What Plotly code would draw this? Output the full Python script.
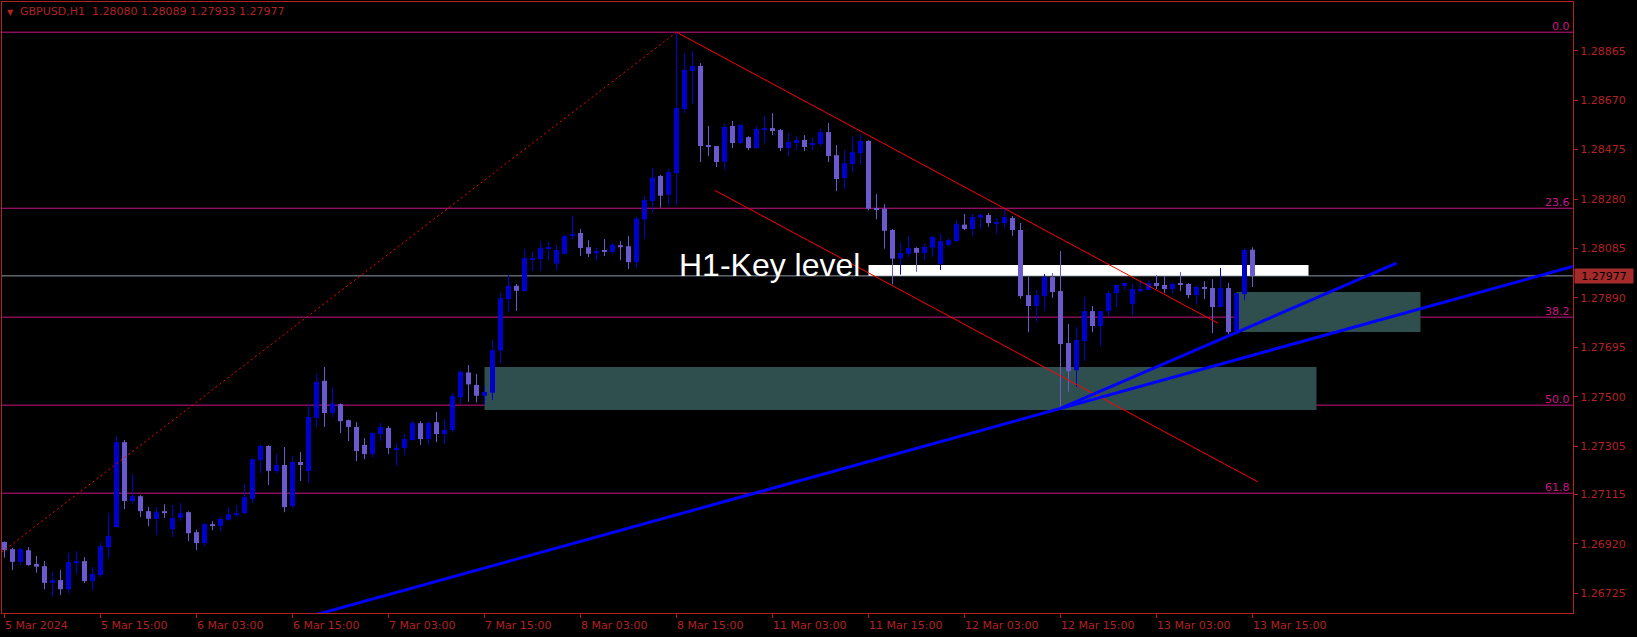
import plotly.graph_objects as go

symbol = "GBPUSD"
timeframe = "H1"

opens = [1.26927, 1.26899, 1.26849, 1.26895, 1.26841, 1.26832, 1.26766, 1.26777, 1.26741, 1.26844,
         1.26852, 1.26773, 1.26797, 1.26907, 1.26986, 1.27321, 1.27089, 1.27108, 1.27049, 1.27018,
         1.27049, 1.26978, 1.27023, 1.27045, 1.26966, 1.26923, 1.26998, 1.26991, 1.27015, 1.27033,
         1.27041, 1.27097, 1.27250, 1.27306, 1.27207, 1.27231, 1.27069, 1.27243, 1.27207, 1.27417,
         1.27563, 1.27436, 1.27471, 1.27408, 1.27381, 1.27310, 1.27275, 1.27353, 1.27377, 1.27294,
         1.27298, 1.27329, 1.27396, 1.27333, 1.27400, 1.27353, 1.27369, 1.27498, 1.27596, 1.27547,
         1.27504, 1.27516, 1.27682, 1.27885, 1.27938, 1.27917, 1.28042, 1.28043, 1.28084, 1.28025,
         1.28064, 1.28135, 1.28146, 1.28090, 1.28066, 1.28079, 1.28071, 1.28098, 1.28094, 1.28031,
         1.28200, 1.28272, 1.28371, 1.28297, 1.28382, 1.28635, 1.28785, 1.28805, 1.28493, 1.28489,
         1.28427, 1.28568, 1.28501, 1.28524, 1.28481, 1.28552, 1.28560, 1.28552, 1.28481, 1.28501,
         1.28513, 1.28493, 1.28497, 1.28544, 1.28453, 1.28363, 1.28418, 1.28461, 1.28509, 1.28242,
         1.28242, 1.28158, 1.28045, 1.28064, 1.28087, 1.28067, 1.28088, 1.28024, 1.28099, 1.28114,
         1.28179, 1.28162, 1.28207, 1.28217, 1.28185, 1.28185, 1.28205, 1.28158, 1.27901, 1.27858,
         1.27897, 1.27972, 1.27917, 1.27712, 1.27605, 1.27720, 1.27838, 1.27779, 1.27838, 1.27909,
         1.27937, 1.27866, 1.27916, 1.27921, 1.27949, 1.27941, 1.27925, 1.27945, 1.27945, 1.27901,
         1.27933, 1.27929, 1.27854, 1.27929, 1.27759, 1.27905, 1.28080]
highs = [1.26930, 1.26905, 1.26905, 1.26907, 1.26872, 1.26852, 1.26809, 1.26817, 1.26885, 1.26891,
         1.26868, 1.26828, 1.26926, 1.27040, 1.27345, 1.27329, 1.27195, 1.27112, 1.27066, 1.27065,
         1.27077, 1.27073, 1.27081, 1.27048, 1.26976, 1.27003, 1.27010, 1.27026, 1.27065, 1.27073,
         1.27156, 1.27256, 1.27313, 1.27309, 1.27274, 1.27302, 1.27266, 1.27282, 1.27474, 1.27592,
         1.27618, 1.27538, 1.27474, 1.27410, 1.27400, 1.27337, 1.27360, 1.27396, 1.27385, 1.27318,
         1.27353, 1.27404, 1.27404, 1.27404, 1.27440, 1.27412, 1.27515, 1.27602, 1.27625, 1.27590,
         1.27543, 1.27724, 1.27910, 1.27980, 1.27945, 1.28083, 1.28073, 1.28112, 1.28110, 1.28098,
         1.28140, 1.28215, 1.28162, 1.28118, 1.28087, 1.28122, 1.28105, 1.28114, 1.28134, 1.28210,
         1.28292, 1.28402, 1.28375, 1.28398, 1.28938, 1.28856, 1.28864, 1.28816, 1.28568, 1.28489,
         1.28576, 1.28588, 1.28575, 1.28528, 1.28568, 1.28607, 1.28619, 1.28556, 1.28540, 1.28528,
         1.28532, 1.28521, 1.28556, 1.28580, 1.28493, 1.28473, 1.28528, 1.28536, 1.28512, 1.28300,
         1.28260, 1.28162, 1.28110, 1.28134, 1.28090, 1.28103, 1.28134, 1.28142, 1.28126, 1.28197,
         1.28221, 1.28221, 1.28225, 1.28225, 1.28205, 1.28241, 1.28213, 1.28185, 1.27974, 1.27921,
         1.27984, 1.27988, 1.28075, 1.27787, 1.27775, 1.27894, 1.27858, 1.27838, 1.27917, 1.27941,
         1.27949, 1.27945, 1.27960, 1.27960, 1.27980, 1.27976, 1.27952, 1.27992, 1.27949, 1.27941,
         1.27956, 1.27964, 1.28008, 1.27949, 1.27909, 1.28087, 1.28089]
lows = [1.26865, 1.26817, 1.26836, 1.26834, 1.26806, 1.26741, 1.26711, 1.26718, 1.26724, 1.26801,
        1.26766, 1.26738, 1.26789, 1.26864, 1.26986, 1.27057, 1.27077, 1.27026, 1.26990, 1.26955,
        1.27022, 1.26947, 1.27010, 1.26931, 1.26895, 1.26912, 1.26974, 1.26970, 1.27011, 1.27026,
        1.27037, 1.27081, 1.27199, 1.27152, 1.27199, 1.27045, 1.27061, 1.27168, 1.27160, 1.27381,
        1.27381, 1.27420, 1.27357, 1.27325, 1.27246, 1.27254, 1.27262, 1.27325, 1.27274, 1.27227,
        1.27270, 1.27329, 1.27310, 1.27310, 1.27321, 1.27314, 1.27360, 1.27475, 1.27480, 1.27478,
        1.27470, 1.27487, 1.27632, 1.27835, 1.27839, 1.27917, 1.27996, 1.27997, 1.28039, 1.28000,
        1.28064, 1.28122, 1.28055, 1.28051, 1.28037, 1.28055, 1.28063, 1.28039, 1.28004, 1.28009,
        1.28122, 1.28226, 1.28246, 1.28254, 1.28256, 1.28619, 1.28655, 1.28426, 1.28450, 1.28406,
        1.28396, 1.28481, 1.28497, 1.28473, 1.28477, 1.28501, 1.28532, 1.28469, 1.28450, 1.28473,
        1.28469, 1.28473, 1.28489, 1.28426, 1.28311, 1.28319, 1.28386, 1.28414, 1.28236, 1.28200,
        1.28084, 1.27943, 1.27982, 1.28053, 1.27993, 1.28040, 1.28053, 1.28000, 1.28095, 1.28112,
        1.28158, 1.28135, 1.28162, 1.28171, 1.28142, 1.28167, 1.28135, 1.27887, 1.27755, 1.27796,
        1.27840, 1.27890, 1.27454, 1.27520, 1.27540, 1.27641, 1.27755, 1.27700, 1.27819, 1.27854,
        1.27921, 1.27822, 1.27913, 1.27921, 1.27925, 1.27909, 1.27909, 1.27917, 1.27889, 1.27866,
        1.27885, 1.27751, 1.27854, 1.27747, 1.27755, 1.27881, 1.27933]
closes = [1.26895, 1.26849, 1.26899, 1.26836, 1.26830, 1.26766, 1.26777, 1.26741, 1.26848, 1.26852,
          1.26773, 1.26801, 1.26911, 1.26951, 1.27321, 1.27089, 1.27108, 1.27049, 1.27019, 1.27045,
          1.27041, 1.27022, 1.27041, 1.26962, 1.26923, 1.26998, 1.26990, 1.27018, 1.27037, 1.27041,
          1.27104, 1.27254, 1.27306, 1.27208, 1.27231, 1.27065, 1.27243, 1.27231, 1.27420, 1.27559,
          1.27436, 1.27474, 1.27404, 1.27381, 1.27286, 1.27274, 1.27357, 1.27381, 1.27298, 1.27298,
          1.27333, 1.27396, 1.27333, 1.27396, 1.27353, 1.27369, 1.27503, 1.27599, 1.27549, 1.27504,
          1.27519, 1.27684, 1.27889, 1.27938, 1.27918, 1.28047, 1.28047, 1.28087, 1.28090, 1.28079,
          1.28134, 1.28142, 1.28087, 1.28064, 1.28075, 1.28071, 1.28100, 1.28090, 1.28031, 1.28203,
          1.28276, 1.28365, 1.28293, 1.28386, 1.28639, 1.28789, 1.28805, 1.28489, 1.28485, 1.28426,
          1.28564, 1.28501, 1.28572, 1.28481, 1.28556, 1.28560, 1.28548, 1.28481, 1.28505, 1.28513,
          1.28485, 1.28501, 1.28544, 1.28450, 1.28359, 1.28421, 1.28465, 1.28509, 1.28242, 1.28237,
          1.28155, 1.28045, 1.28067, 1.28087, 1.28068, 1.28091, 1.28130, 1.28114, 1.28118, 1.28181,
          1.28162, 1.28209, 1.28217, 1.28185, 1.28189, 1.28209, 1.28158, 1.27897, 1.27858, 1.27901,
          1.27972, 1.27913, 1.27708, 1.27601, 1.27724, 1.27838, 1.27779, 1.27838, 1.27909, 1.27941,
          1.27949, 1.27925, 1.27925, 1.27949, 1.27937, 1.27925, 1.27945, 1.27941, 1.27901, 1.27933,
          1.27925, 1.27854, 1.27929, 1.27755, 1.27909, 1.28079, 1.27977]

tick_bars = [0, 12, 24, 36, 48, 60, 72, 84, 96, 108, 120, 132, 144, 156]
tick_labels = ["5 Mar 2024", "5 Mar 15:00", "6 Mar 03:00", "6 Mar 15:00", "7 Mar 03:00",
               "7 Mar 15:00", "8 Mar 03:00", "8 Mar 15:00", "11 Mar 03:00", "11 Mar 15:00",
               "12 Mar 03:00", "12 Mar 15:00", "13 Mar 03:00", "13 Mar 15:00"]
price_ticks = [1.28865, 1.28670, 1.28475, 1.28280, 1.28085, 1.27890, 1.27695,
               1.27500, 1.27305, 1.27115, 1.26920, 1.26725]

fib_high = 1.28938
fib_low = 1.25996
fib_high_bar = 84
fib_low_bar = -37
fib_ratios = [0.0, 23.6, 38.2, 50.0, 61.8]

channel_upper_bars = [84, 151.7]
channel_upper_prices = [1.28938, 1.27790]
channel_lower_bars = [88.8, 156.7]
channel_lower_prices = [1.28314, 1.27164]

trend_long_bars = [36, 132, 196.06]
trend_long_prices = [1.26615, 1.27454, 1.28014]
trend_short_bars = [132, 174]
trend_short_prices = [1.27454, 1.28027]

zone_upper_bars = [154, 177]
zone_upper_prices = [1.27756, 1.27913]
zone_lower_bars = [60, 164]
zone_lower_prices = [1.27448, 1.27618]
key_level_bars = [108, 163]
key_level_prices = [1.27977, 1.28020]
key_level_text = "H1-Key level"

x_range = [-0.3125, 196.0625]
y_range = [1.266473, 1.290571]

RED = "#B22222"
FIB = "#C71585"
BULL = "#0000CD"
BEAR = "#6A5ACD"
FONT = "DejaVu Sans"

n = len(opens)
idx = list(range(n))

fig = go.Figure()

# rectangles (background)
for bars, prices, col in [(zone_lower_bars, zone_lower_prices, "#2F4F4F"),
                          (zone_upper_bars, zone_upper_prices, "#2F4F4F"),
                          (key_level_bars, key_level_prices, "#FFFFFF")]:
    fig.add_shape(type="rect", xref="x", yref="y", x0=bars[0], x1=bars[1],
                  y0=prices[0], y1=prices[1], fillcolor=col, line_width=0, layer="below")

# fib levels
fib_levels = [fib_high - r / 100.0 * (fib_high - fib_low) for r in fib_ratios]
for r, lv in zip(fib_ratios, fib_levels):
    fig.add_shape(type="line", xref="paper", yref="y", x0=0, x1=1, y0=lv, y1=lv,
                  line=dict(color=FIB, width=1), layer="below")
    fig.add_annotation(xref="paper", yref="y", x=1, y=lv, xanchor="right", yanchor="bottom",
                       xshift=-1, yshift=-3, text=f"{r:.1f}", showarrow=False,
                       font=dict(family=FONT, size=11, color=FIB))

# bid line
fig.add_shape(type="line", xref="paper", yref="y", x0=0, x1=1, y0=closes[-1], y1=closes[-1],
              line=dict(color="#8C99A6", width=1), layer="below")

# wicks
for up, col in [(True, BULL), (False, BEAR)]:
    wx, wy = [], []
    for i in idx:
        if (closes[i] >= opens[i]) == up:
            wx += [i, i, None]
            wy += [lows[i], highs[i], None]
    fig.add_trace(go.Scatter(x=wx, y=wy, mode="lines", line=dict(color=col, width=1),
                             hoverinfo="skip", showlegend=False))

# bodies
base = [min(o, c) for o, c in zip(opens, closes)]
height = [max(abs(c - o), 0.00004) for o, c in zip(opens, closes)]
colors = [BULL if c >= o else BEAR for o, c in zip(opens, closes)]
fig.add_trace(go.Bar(x=idx, y=height, base=base, width=0.625, marker=dict(color=colors, line_width=0),
                     hoverinfo="skip", showlegend=False))

# fib trend line (dotted)
fig.add_trace(go.Scatter(x=[fib_low_bar, fib_high_bar], y=[fib_low, fib_high], mode="lines",
                         line=dict(color="#FF0000", width=1, dash="2px,3px"),
                         hoverinfo="skip", showlegend=False))
# channel
for bx, py in [(channel_upper_bars, channel_upper_prices), (channel_lower_bars, channel_lower_prices)]:
    fig.add_trace(go.Scatter(x=bx, y=py, mode="lines", line=dict(color="#FF0000", width=1),
                             hoverinfo="skip", showlegend=False))
# blue trend lines
for bx, py in [(trend_long_bars, trend_long_prices), (trend_short_bars, trend_short_prices)]:
    fig.add_trace(go.Scatter(x=bx, y=py, mode="lines", line=dict(color="#0000FF", width=3),
                             hoverinfo="skip", showlegend=False))

# key level text
fig.add_annotation(xref="x", yref="y", x=key_level_bars[0] - 0.8, y=key_level_prices[0],
                   xanchor="right", yanchor="bottom", yshift=-9, text=key_level_text,
                   showarrow=False, font=dict(family="Liberation Sans, Arial", size=32, color="#FFFFFF"))

# x tick labels (left aligned, MT4 style)
for b, t in zip(tick_bars, tick_labels):
    fig.add_annotation(xref="x", yref="paper", x=b, y=0, xanchor="left", yanchor="top",
                       xshift=-2, yshift=-4, text=t, showarrow=False,
                       font=dict(family=FONT, size=11, color=RED))

# header
fig.add_annotation(xref="paper", yref="paper", x=0, y=1, xanchor="left", yanchor="top",
                   xshift=3, yshift=-4, text="▼", showarrow=False,
                   font=dict(family=FONT, size=8, color=RED))
fig.add_annotation(xref="paper", yref="paper", x=0, y=1, xanchor="left", yanchor="top",
                   xshift=16, yshift=-1,
                   text=f"{symbol},{timeframe}\u00a0\u00a0{opens[-1]:.5f} {highs[-1]:.5f} {lows[-1]:.5f} {closes[-1]:.5f}",
                   showarrow=False, font=dict(family=FONT, size=11, color=RED))

# current price box
fig.add_annotation(xref="paper", yref="y", x=1, y=closes[-1], xanchor="left", yanchor="middle",
                   xshift=1, text=f"{closes[-1]:.5f}", showarrow=False, bgcolor="#A52A2A",
                   width=54, height=10, borderpad=2,
                   font=dict(family=FONT, size=11, color="#000000"))

fig.update_layout(
    width=1637, height=637, autosize=False,
    paper_bgcolor="#000000", plot_bgcolor="#000000",
    margin=dict(l=2, r=64, t=2, b=24),
    showlegend=False, barmode="overlay", hovermode=False,
    xaxis=dict(range=x_range, showgrid=False, zeroline=False, showline=True, linecolor=RED,
               linewidth=1, mirror=True, ticks="outside", ticklen=4, tickcolor=RED,
               tickvals=tick_bars, showticklabels=False, fixedrange=True),
    yaxis=dict(range=y_range, side="right", showgrid=False, zeroline=False, showline=True,
               linecolor=RED, linewidth=1, mirror=True, ticks="outside", ticklen=4,
               tickcolor=RED, tickvals=price_ticks, ticktext=[f"{p:.5f}" for p in price_ticks],
               tickfont=dict(family=FONT, size=11, color=RED), fixedrange=True),
)

fig.write_html("out.html", post_script="document.body.style.margin='0';document.body.style.background='#000';",
               config={"displayModeBar": False})
